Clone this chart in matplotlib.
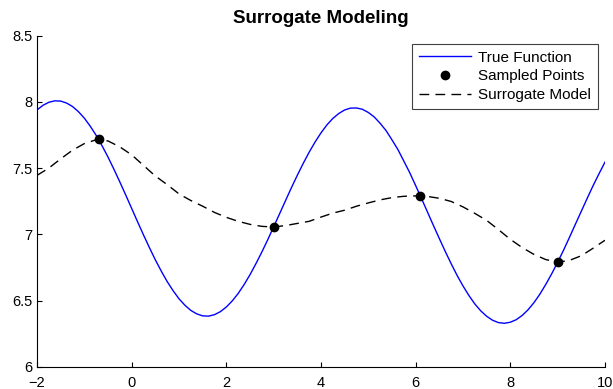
import matplotlib
matplotlib.use("Agg")
import matplotlib.pyplot as plt

# True objective evaluated on a fine grid (step 0.125)
x_fine = [-2.0 + 0.125 * i for i in range(97)]
true_values = [
    7.939, 7.974, 7.997, 8.008, 8.006, 7.991, 7.965, 7.926,
    7.877, 7.816, 7.747, 7.668, 7.583, 7.491, 7.395, 7.296,
    7.195, 7.094, 6.995, 6.899, 6.807, 6.722, 6.643, 6.574,
    6.513, 6.464, 6.425, 6.399, 6.384, 6.382, 6.393, 6.416,
    6.451, 6.497, 6.553, 6.620, 6.695, 6.778, 6.866, 6.959,
    7.057, 7.155, 7.254, 7.352, 7.446, 7.536, 7.620, 7.697,
    7.766, 7.826, 7.875, 7.912, 7.939, 7.953, 7.954, 7.944,
    7.920, 7.886, 7.838, 7.783, 7.713, 7.640, 7.553, 7.465,
    7.368, 7.269, 7.168, 7.067, 6.968, 6.871, 6.778, 6.690,
    6.610, 6.538, 6.474, 6.422, 6.381, 6.351, 6.333, 6.328,
    6.336, 6.355, 6.387, 6.430, 6.484, 6.548, 6.622, 6.702,
    6.789, 6.880, 6.977, 7.076, 7.174, 7.272, 7.368, 7.458,
    7.545,
]

# Surrogate prediction on a coarser grid (step 0.25)
x_coarse = [-2.0 + 0.25 * i for i in range(49)]
surrogate_values = [
    7.445, 7.500, 7.570, 7.635, 7.685, 7.714, 7.705, 7.660, 7.600, 7.520,
    7.440, 7.375, 7.305, 7.255, 7.212, 7.165, 7.128, 7.098, 7.075, 7.060,
    7.055, 7.066, 7.082, 7.098, 7.130, 7.160, 7.182, 7.212, 7.237, 7.260,
    7.277, 7.287, 7.290, 7.286, 7.272, 7.248, 7.207, 7.158, 7.105, 7.035,
    6.962, 6.900, 6.848, 6.809, 6.790, 6.803, 6.838, 6.895, 6.955,
]

# Sampled design points
sample_x = [-0.7, 3.0, 6.1, 9.0]
sample_y = [7.716, 7.055, 7.290, 6.790]

x_ticks = [-2, 0, 2, 4, 6, 8, 10]
y_ticks = [6, 6.5, 7, 7.5, 8, 8.5]
y_tick_labels = ["6", "6.5", "7", "7.5", "8", "8.5"]

plt.rcParams["font.family"] = ["Liberation Sans", "DejaVu Sans"]

fig = plt.figure(figsize=(6.13, 3.89), dpi=100)
ax = fig.add_axes([0.0604, 0.0573, 0.9265, 0.851])

ax.plot(x_fine, true_values, color="#0000ff", lw=1.0, label="True Function")
ax.plot(sample_x, sample_y, "o", color="black", ms=6, label="Sampled Points")
ax.plot(x_coarse, surrogate_values, color="black", lw=1.0, dashes=(7, 4.5),
        label="Surrogate Model")

ax.set_xlim(-2, 10)
ax.set_ylim(6, 8.5)
ax.set_xticks(x_ticks)
ax.set_yticks(y_ticks)
ax.set_yticklabels(y_tick_labels)

for side in ("top", "right"):
    ax.spines[side].set_visible(False)
for side in ("left", "bottom"):
    ax.spines[side].set_linewidth(0.8)
    ax.spines[side].set_color("black")

ax.tick_params(direction="in", length=3.6, width=0.8, labelsize=10.5, colors="black")
ax.tick_params(axis="x", pad=7)
ax.tick_params(axis="y", pad=3)

ax.set_title("Surrogate Modeling", fontsize=13.5, fontweight="bold", pad=9)

leg = ax.legend(loc="upper right", bbox_to_anchor=(0.987, 0.975), fontsize=11,
                frameon=True, fancybox=False, borderpad=0.45, labelspacing=0.3,
                handlelength=3.4, handletextpad=0.45, borderaxespad=0)
leg.get_frame().set_edgecolor("#404040")
leg.get_frame().set_linewidth(0.8)
leg.get_frame().set_alpha(1)

fig.savefig("out.png", dpi=100)
